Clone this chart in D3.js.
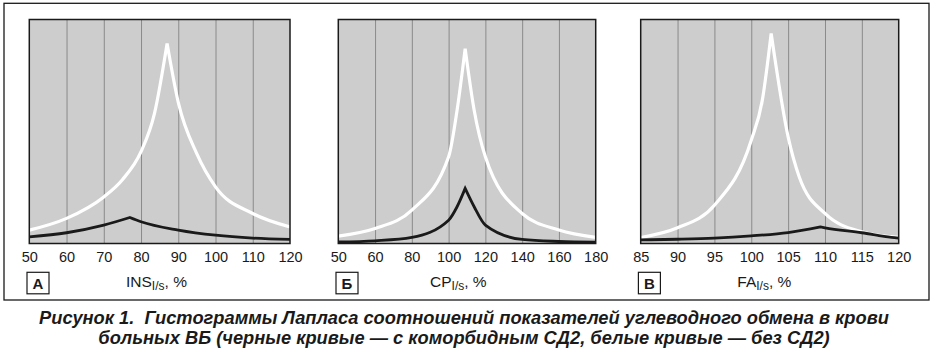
<!DOCTYPE html>
<html><head><meta charset="utf-8">
<script src="https://cdn.jsdelivr.net/npm/d3@7"></script>
<style>
body{margin:0;background:#fff}
svg{display:block}
text{font-family:"Liberation Sans",Arial,Helvetica,sans-serif;fill:#1a1a1a}
</style>
</head><body>
<svg id="c" width="934" height="352"></svg>
<script>
// ---- data ----
const insTicks = [50, 60, 70, 80, 90, 100, 110, 120];
const cpTicks  = [50, 60, 80, 100, 120, 140, 160, 180];
const faTicks  = [85, 90, 95, 100, 105, 110, 115, 120];

const insWhiteX = [50, 60, 70, 75, 80, 83.6, 87, 90, 95, 100, 110, 120];
const insWhiteY = [5.95, 11.2, 20.8, 28.5, 41, 58, 89.3, 63, 40, 25.3, 13.4, 7.4];
const insBlackX = [50, 60, 70, 77, 80, 90, 100, 110, 120];
const insBlackY = [3.0, 4.8, 8.2, 11.6, 9.7, 6.0, 3.7, 2.4, 1.8];

const cpWhiteX = [50, 60, 80, 100, 104.6, 109, 113.9, 120, 140, 160, 180];
const cpWhiteY = [3.3, 6.7, 14.9, 38.7, 59.5, 87, 59.5, 38.7, 13.4, 6.0, 2.7];
const cpBlackX = [50, 60, 80, 100, 104.6, 109, 113.9, 120, 140, 160, 180];
const cpBlackY = [0.7, 1.2, 2.7, 10.4, 16.4, 24.6, 16.4, 8.2, 1.8, 0.9, 0.6];

const faWhiteX = [85, 90, 95, 100, 101.5, 102.7, 105, 106.5, 110, 115, 120];
const faWhiteY = [2.7, 7.0, 17.1, 46.1, 64, 93.75, 47.6, 29.8, 13.4, 5.2, 2.7];
const faBlackX = [85, 90, 95, 100, 105, 109.4, 110, 115, 119, 120];
const faBlackY = [1.6, 1.9, 2.4, 3.4, 4.9, 7.4, 7.0, 4.8, 2.7, 2.4];

const panelLetters = ["А", "Б", "В"];
const axisNames = ["INS", "CP", "FA"];
const axisSub = "I/s";
const axisUnit = ", %";
const captionLines = [
  "Рисунок 1.  Гистограммы Лапласа соотношений показателей углеводного обмена в крови",
  "больных ВБ (черные кривые — с коморбидным СД2, белые кривые — без СД2)"
];

// ---- layout ----
const svg = d3.select("#c");
const plotTop = 19.5, plotBottom = 243.5;
const panels = [
  {x0: 29.3, x1: 290.0, ticks: insTicks, wx: insWhiteX, wy: insWhiteY, bx: insBlackX, by: insBlackY},
  {x0: 338.3, x1: 595.7, ticks: cpTicks, wx: cpWhiteX, wy: cpWhiteY, bx: cpBlackX, by: cpBlackY},
  {x0: 640.7, x1: 898.7, ticks: faTicks, wx: faWhiteX, wy: faWhiteY, bx: faBlackX, by: faBlackY}
];
const titleStarts = [126, 430, 737.3];

// outer frame
svg.append("rect").attr("x", 4).attr("y", 3.3).attr("width", 925).attr("height", 296.7)
  .attr("fill", "none").attr("stroke", "#1a1a1a").attr("stroke-width", 1.3);

const y = d3.scaleLinear().domain([0, 100]).range([plotBottom, plotTop]);

function peakPath(xs, ys, x) {
  const pts = xs.map((v, i) => [v, ys[i]]);
  const k = d3.maxIndex(ys);
  const line = d3.line().x(d => x(d[0])).y(d => y(d[1])).curve(d3.curveMonotoneX);
  const left = line(pts.slice(0, k + 1));
  const right = line(pts.slice(k));
  return left + right.replace(/^M[^A-Za-z]*/, "");
}

panels.forEach((p, i) => {
  const n = p.ticks.length - 1;
  const x = d3.scaleLinear().domain(p.ticks)
    .range(p.ticks.map((d, j) => p.x0 + j * (p.x1 - p.x0) / n));
  const g = svg.append("g");
  const clipId = "clip" + i;
  svg.append("clipPath").attr("id", clipId).append("rect")
    .attr("x", p.x0).attr("y", plotTop).attr("width", p.x1 - p.x0).attr("height", plotBottom - plotTop);

  g.append("rect").attr("x", p.x0).attr("y", plotTop).attr("width", p.x1 - p.x0).attr("height", plotBottom - plotTop)
    .attr("fill", "#cdcdcd");

  // grid
  const grid = g.append("g").attr("transform", `translate(0,${plotBottom})`)
    .call(d3.axisBottom(x).tickValues(p.ticks.slice(1, -1)).tickSize(-(plotBottom - plotTop)).tickFormat(""));
  grid.select(".domain").remove();
  grid.selectAll("line").attr("stroke", "#8a8a8a").attr("stroke-width", 1);

  const cg = g.append("g").attr("clip-path", `url(#${clipId})`);
  cg.append("path").attr("d", peakPath(p.wx, p.wy, x)).attr("fill", "none")
    .attr("stroke", "#ffffff").attr("stroke-width", 3.2).attr("stroke-linejoin", "miter");
  cg.append("path").attr("d", peakPath(p.bx, p.by, x)).attr("fill", "none")
    .attr("stroke", "#1a1a1a").attr("stroke-width", 2.8).attr("stroke-linejoin", "miter");

  g.append("rect").attr("x", p.x0).attr("y", plotTop).attr("width", p.x1 - p.x0).attr("height", plotBottom - plotTop)
    .attr("fill", "none").attr("stroke", "#1a1a1a").attr("stroke-width", 1.5);

  // tick labels
  const ax = g.append("g").attr("transform", `translate(0,${plotBottom})`)
    .call(d3.axisBottom(x).tickValues(p.ticks).tickSize(0).tickPadding(8.5));
  ax.select(".domain").remove();
  ax.attr("font-family", null).attr("font-size", null);
  ax.selectAll("text").attr("font-size", 14.5).style("fill", "#1a1a1a");

  // letter box
  g.append("rect").attr("x", p.x0 - 2.3).attr("y", 272.3).attr("width", 22).attr("height", 21.5)
    .attr("fill", "#fff").attr("stroke", "#1a1a1a").attr("stroke-width", 1.2);
  g.append("text").attr("x", p.x0 - 2.3 + 11).attr("y", 288.5).attr("text-anchor", "middle")
    .attr("font-size", 15).attr("font-weight", "bold").text(panelLetters[i]);

  // axis title
  const t = g.append("text")
    .attr("x", titleStarts[i]).attr("y", 286.7)
    .attr("text-anchor", "start").attr("font-size", 15.5);
  t.append("tspan").text(axisNames[i]);
  t.append("tspan").attr("dy", 3.3).attr("font-size", 12).text(axisSub);
  t.append("tspan").attr("dy", -3.3).text(axisUnit);
});

// caption (two lines)
captionLines.forEach((s, i) => {
  svg.append("text").attr("x", 464).attr("y", i === 0 ? 323.6 : 344.4)
    .attr("text-anchor", "middle").attr("font-size", 18.3)
    .attr("font-weight", "bold").attr("font-style", "italic")
    .style("white-space", "pre").text(s);
});
</script>
</body></html>
